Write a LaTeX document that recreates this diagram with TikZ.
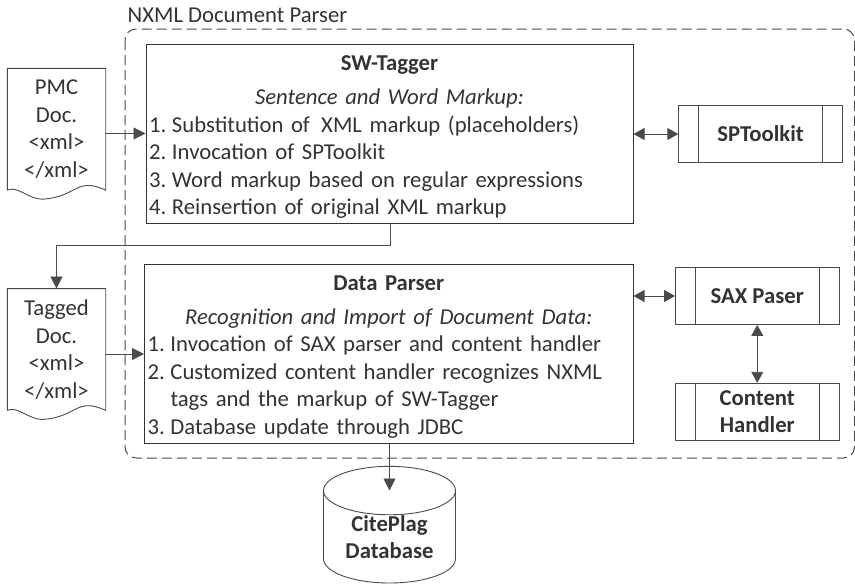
\documentclass[tikz,border=0pt]{standalone}
\usepackage{fontspec}
\setmainfont{Carlito}
\usetikzlibrary{arrows.meta,shapes.geometric}
\definecolor{inkgray}{HTML}{333333}
\definecolor{linegray}{HTML}{4A4A4A}
\newcommand{\stepnum}[1]{\makebox[23pt][l]{#1}}
\newcommand{\midline}[1]{\makebox[\linewidth][c]{#1}}
\tikzset{
  labeltext/.style={text=inkgray,font=\fontsize{22.7}{27.5}\selectfont},
  mainbox/.style={draw=inkgray,line width=1pt,rectangle,minimum width=487pt,labeltext,
    text width=481pt,inner sep=3pt,align=left},
  docbox/.style={rectangle,minimum width=98pt,minimum height=121.5pt,inner sep=0pt,labeltext,align=center},
  subrbox/.style={draw=linegray,line width=0.9pt,rectangle,minimum width=163.5pt,minimum height=57pt,
    inner sep=0pt,labeltext,align=center,font=\fontsize{22.7}{27.5}\selectfont\bfseries,
    path picture={
      \draw[line width=0.9pt,draw=linegray] ([xshift=20pt]path picture bounding box.north west) -- ([xshift=20pt]path picture bounding box.south west);
      \draw[line width=0.9pt,draw=linegray] ([xshift=-20pt]path picture bounding box.north east) -- ([xshift=-20pt]path picture bounding box.south east);
    }},
  flow/.style={draw=linegray,line width=0.8pt,-{Triangle[length=12pt,width=12pt]}},
  bothflow/.style={draw=linegray,line width=0.9pt,{Triangle[length=11pt,width=12pt]}-{Triangle[length=11pt,width=12pt]}}
}
\begin{document}
\begin{tikzpicture}[x=1pt,y=-1pt]
\useasboundingbox (0,0) rectangle (855,584);
%%%PARSER FRAME
\draw[draw=linegray,line width=1pt,dash pattern=on 10pt off 5pt,rounded corners=11pt] (125,29) rectangle (854.5,458);
\node[labeltext,anchor=west,inner sep=0pt] (parsertitle) at (127.5,15) {NXML Document Parser};
%%%MAIN BOXES
\node[mainbox,minimum height=178.5pt] (swtagger) at (389.5,133.75) {%
\midline{\rule{0pt}{22pt}\textbf{SW-Tagger}}\\[6.5pt]
\midline{\textit{Sentence and Word Markup:}}\\
\stepnum{1.}Substitution of\, XML markup (placeholders)\\
\stepnum{2.}Invocation of SPToolkit\\
\stepnum{3.}Word markup based on regular expressions\\
\stepnum{4.}Reinsertion of original XML markup};
\node[mainbox,minimum width=488.5pt,text width=482.5pt,minimum height=178.5pt] (dataparser) at (388.75,353.75) {%
\midline{\rule{0pt}{21pt}\textbf{Data Parser}}\\[6.5pt]
\midline{\textit{Recognition and Import of Document Data:}}\\
\stepnum{1.}Invocation of SAX parser and content handler\\
\stepnum{2.}Customized content handler recognizes NXML\\
\stepnum{}tags and the markup of SW-Tagger\\
\stepnum{3.}Database update through JDBC};
%%%DOCUMENTS
\node[docbox] (pmcdoc) at (56.5,129.25) {PMC\\Doc.\\<xml>\\</xml>};
\node[docbox] (taggeddoc) at (56.5,349.5) {Tagged\\Doc.\\<xml>\\</xml>};
\foreach \docname in {pmcdoc,taggeddoc}
  \draw[draw=linegray,line width=0.9pt] (\docname.south west) -- (\docname.north west) -- (\docname.north east) -- (\docname.south east)
    .. controls +(-30,-14) and +(35,-2) .. ([xshift=35pt,yshift=-9pt]\docname.south west)
    .. controls +(-14,0) and +(10,-5) .. (\docname.south west);
%%%HELPERS
\node[subrbox] (sptoolkit) at (760.5,134) {SPToolkit};
\node[subrbox] (saxparser) at (757.25,296) {SAX Paser};
\node[subrbox] (contenthandler) at (757.25,411.75) {Content\\Handler};
%%%DATABASE
\node[cylinder,shape border rotate=90,aspect=0.55,draw=linegray,line width=0.9pt,minimum width=132pt,minimum height=98pt,
  inner sep=0pt,labeltext,align=center,font=\fontsize{22.7}{27.5}\selectfont\bfseries] (citeplag) at (389.5,537) {CitePlag\\Database};
\coordinate (citeplagtop) at (389.5,490.5);
\coordinate (tagbend) at (390,245.5);
%%%CONNECTORS
\draw[flow] (pmcdoc.east |- 0,133.5) -- (swtagger.west |- 0,133.5);
\draw[flow] (taggeddoc.east |- 0,354) -- (dataparser.west |- 0,354);
\draw[flow] (swtagger.south -| tagbend) -- (tagbend) -| (taggeddoc.north);
\draw[flow] (dataparser.south -| citeplagtop) -- (citeplagtop);
\draw[bothflow] (swtagger.east |- sptoolkit) -- (sptoolkit.west);
\draw[bothflow] (dataparser.east |- saxparser) -- (saxparser.west);
\draw[bothflow] (saxparser.south) -- (contenthandler.north);
\end{tikzpicture}
\end{document}
